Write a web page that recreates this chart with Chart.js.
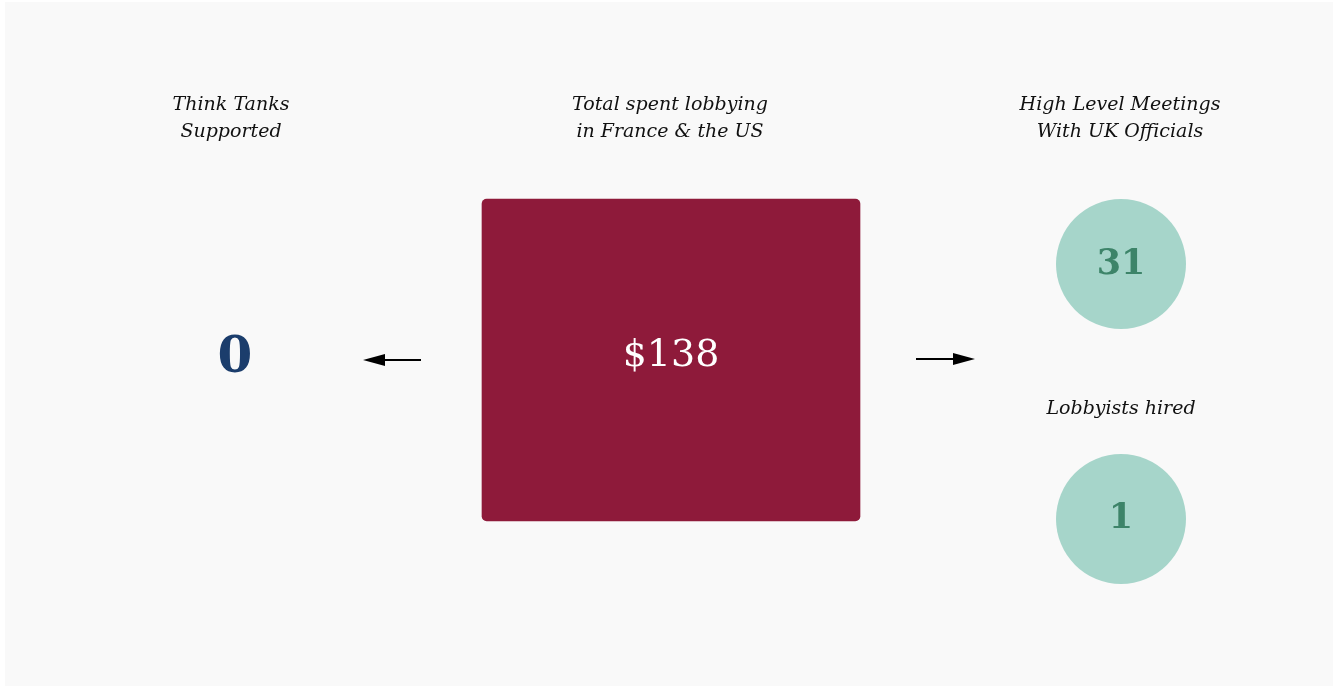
<!DOCTYPE html>
<html>
<head>
<meta charset="utf-8">
<script src="https://cdn.jsdelivr.net/npm/chart.js@4/dist/chart.umd.min.js"></script>
<style>
  html, body { margin: 0; padding: 0; background: #ffffff; }
  #panel {
    position: absolute; left: 5px; top: 2px;
    width: 1328px; height: 684px;
    background: #f9f9f9;
  }
  #wrap { position: absolute; left: 0; top: 0; width: 1338px; height: 688px; }
</style>
</head>
<body>
<div id="panel"></div>
<div id="wrap"><canvas id="grafico"></canvas></div>
<script>
// ---- dados ----
const metricas = ['Think Tanks\nSupported', 'Total spent lobbying\nin France & the US', 'High Level Meetings\nWith UK Officials', 'Lobbyists hired'];
const valores = [0, 138, 31, 1];
const rotulosValor = ['0', '$138', '31', '1'];

// ---- layout (unidades das escalas = pixels da tela) ----
const colunas = [232, 671, 1121];
const posTitulo = [
  { x: 231, y: 105 },
  { x: 670, y: 105 },
  { x: 1120, y: 105 },
  { x: 1121, y: 409 }
];
const posValor = [
  { x: 235, y: 359 },
  { x: 671, y: 356 },
  { x: 1121, y: 265 },
  { x: 1121, y: 519 }
];

// plugin que escreve os textos e desenha as setas
const textosPlugin = {
  id: 'textos',
  afterDatasetsDraw(chart) {
    const ctx = chart.ctx;
    const sx = chart.scales.x, sy = chart.scales.y;
    ctx.save();
    ctx.textAlign = 'center';
    ctx.textBaseline = 'middle';

    // titulos
    ctx.fillStyle = '#111111';
    ctx.font = 'italic 19px "DejaVu Serif"';
    metricas.forEach((m, i) => {
      m.split('\n').forEach((linha, j) => {
        ctx.fillText(linha, sx.getPixelForValue(posTitulo[i].x), sy.getPixelForValue(posTitulo[i].y + j * 27));
      });
    });

    // valores
    const estilos = [
      { font: 'bold 50px "DejaVu Serif"', cor: '#1b3d6c' },
      { font: '38px "DejaVu Serif"', cor: '#ffffff' },
      { font: 'bold 35px "DejaVu Serif"', cor: '#3d8469' },
      { font: 'bold 35px "DejaVu Serif"', cor: '#3d8469' }
    ];
    rotulosValor.forEach((r, i) => {
      ctx.font = estilos[i].font;
      ctx.fillStyle = estilos[i].cor;
      ctx.fillText(r, sx.getPixelForValue(posValor[i].x), sy.getPixelForValue(posValor[i].y));
    });

    // setas
    function seta(x0, x1, y) {
      const px0 = sx.getPixelForValue(x0), px1 = sx.getPixelForValue(x1), py = sy.getPixelForValue(y);
      const dir = Math.sign(px1 - px0);
      ctx.strokeStyle = '#000';
      ctx.fillStyle = '#000';
      ctx.lineWidth = 2;
      ctx.beginPath();
      ctx.moveTo(px0, py);
      ctx.lineTo(px1 - dir * 10, py);
      ctx.stroke();
      ctx.beginPath();
      ctx.moveTo(px1, py);
      ctx.lineTo(px1 - dir * 22, py - 6);
      ctx.lineTo(px1 - dir * 22, py + 6);
      ctx.closePath();
      ctx.fill();
    }
    seta(421, 363, 360);
    seta(916, 975, 359);
    ctx.restore();
  }
};

new Chart(document.getElementById('grafico'), {
  type: 'bar',
  data: {
    datasets: [
      {
        type: 'bar',
        label: metricas[1],
        data: [{ x: colunas[1], y: [199, 521] }],
        backgroundColor: '#8e1a3a',
        barThickness: 378,
        borderRadius: 5,
        borderSkipped: false
      },
      {
        type: 'bubble',
        label: 'circulos',
        data: [
          { x: colunas[2], y: posValor[2].y - 1, r: 65, v: valores[2] },
          { x: colunas[2], y: posValor[3].y, r: 65, v: valores[3] }
        ],
        backgroundColor: '#a6d5ca',
        borderWidth: 0
      }
    ]
  },
  options: {
    responsive: true,
    maintainAspectRatio: false,
    animation: false,
    events: [],
    layout: { padding: 0, autoPadding: false },
    plugins: {
      legend: { display: false },
      tooltip: { enabled: false }
    },
    scales: {
      x: { type: 'linear', min: 0, max: 1338, display: false, offset: false },
      y: { type: 'linear', min: 0, max: 688, reverse: true, display: false }
    }
  },
  plugins: [textosPlugin]
});
</script>
</body>
</html>
